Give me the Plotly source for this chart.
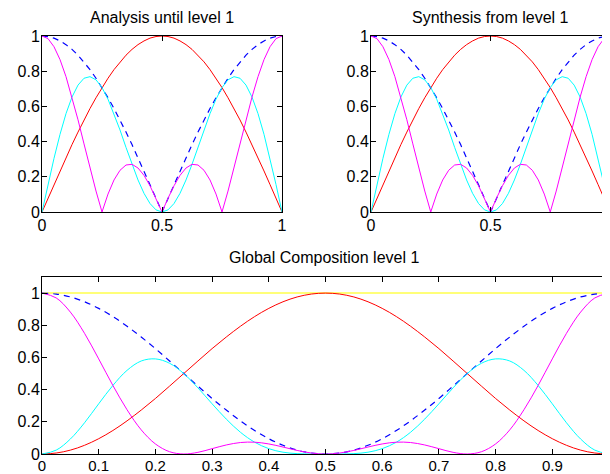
import plotly.graph_objects as go

# sample positions (normalised frequency)
x = [i * 0.025 for i in range(41)]

# ---- top panels (analysis / synthesis), half curve 0..0.5, mirrored ----
red_half = [0, .078, .156, .233, .309, .383, .454, .523, .588, .649, .707,
            .760, .809, .853, .891, .924, .951, .972, .988, .997, 1]
blue_half = [1, .997, .988, .972, .951, .924, .891, .853, .809, .760, .707,
             .649, .588, .523, .454, .383, .309, .233, .156, .078, 0]
mag_half = [1, .985, .939, .866, .769, .653, .524, .387, .250, .119, 0,
            .102, .182, .237, .267, .271, .250, .208, .149, .078, 0]
cyan_half = [0, .156, .305, .441, .559, .653, .721, .760, .769, .751, .707,
             .641, .559, .466, .367, .271, .182, .106, .048, .012, 0]

# ---- bottom panel (global composition) ----
red_g_half = [0, .006, .024, .054, .095, .146, .206, .273, .345, .422, .5,
              .578, .655, .727, .794, .854, .905, .946, .976, .994, 1]
blue_g_half = [1, .994, .976, .946, .905, .854, .794, .727, .655, .578, .5,
               .422, .345, .273, .206, .146, .095, .054, .024, .006, 0]
mag_g_half = [1, .970, .882, .750, .591, .426, .275, .150, .0625, .0142, 0,
              .0104, .0331, .0562, .0713, .0734, .0625, .0433, .0222, .0061, 0]
cyan_g_half = [0, .024, .093, .194, .312, .426, .520, .578, .591, .564, .5,
               .411, .312, .217, .135, .0734, .0331, .0112, .0023, .0001, 0]
yellow_level = 1.0

titles = ["Analysis until level 1", "Synthesis from level 1", "Global Composition level 1"]
top_xticks = [0, 0.5, 1]
top_xlabels = ["0", "0.5", "1"]
bot_xticks = [i / 10 for i in range(11)]
bot_xlabels = ["0", "0.1", "0.2", "0.3", "0.4", "0.5", "0.6", "0.7", "0.8", "0.9", "1"]
yticks = [0, 0.2, 0.4, 0.6, 0.8, 1]
ylabels = ["0", "0.2", "0.4", "0.6", "0.8", "1"]


def full(h):
    return h + h[-2::-1]


# page body has an 8px margin; the figure is sized so it ends at the window edge
OFF = 8
W, H = 610 - OFF, 474 - OFF
FONT = "Liberation Sans, Arial, sans-serif"


def px(v):
    return (v - OFF) / W


def py(v):
    return 1 - (v - OFF) / H


fig = go.Figure()


def add_top(xa, ya):
    fig.add_trace(go.Scatter(x=x, y=full(red_half), mode="lines", line=dict(color="red", width=1), xaxis=xa, yaxis=ya))
    fig.add_trace(go.Scatter(x=x, y=full(blue_half), mode="lines", line=dict(color="blue", width=1.2, dash="6px,5px"), xaxis=xa, yaxis=ya))
    fig.add_trace(go.Scatter(x=x, y=full(cyan_half), mode="lines", line=dict(color="cyan", width=1), xaxis=xa, yaxis=ya))
    fig.add_trace(go.Scatter(x=x, y=full(mag_half), mode="lines", line=dict(color="magenta", width=1), xaxis=xa, yaxis=ya))


add_top("x", "y")
add_top("x2", "y2")

fig.add_trace(go.Scatter(x=[0, 1], y=[yellow_level, yellow_level], mode="lines", line=dict(color="rgb(255,255,120)", width=2), xaxis="x3", yaxis="y3"))
fig.add_trace(go.Scatter(x=x, y=full(red_g_half), mode="lines", line=dict(color="red", width=1, shape="spline"), xaxis="x3", yaxis="y3"))
fig.add_trace(go.Scatter(x=x, y=full(blue_g_half), mode="lines", line=dict(color="blue", width=1.2, dash="6px,5px", shape="spline"), xaxis="x3", yaxis="y3"))
fig.add_trace(go.Scatter(x=x, y=full(cyan_g_half), mode="lines", line=dict(color="cyan", width=1, shape="spline"), xaxis="x3", yaxis="y3"))
fig.add_trace(go.Scatter(x=x, y=full(mag_g_half), mode="lines", line=dict(color="magenta", width=1, shape="spline"), xaxis="x3", yaxis="y3"))

axis_common = dict(showline=True, linecolor="black", linewidth=1, mirror="allticks",
                   ticks="inside", ticklen=5, tickcolor="black", tickwidth=1, automargin=False,
                   showgrid=False, zeroline=False, tickfont=dict(family=FONT, size=16, color="black"),
                   fixedrange=True)
xaxis_common = dict(axis_common, ticklabelstandoff=-1)
yaxis_common = dict(axis_common, ticklabelstandoff=-2)
xaxis_bottom = dict(axis_common, ticklabelstandoff=-2, tickfont=dict(family=FONT, size=15, color="black"))

top_y = [py(212), py(36)]
bot_y = [py(454), py(277)]
title_font = dict(family=FONT, size=16, color="black")

fig.update_layout(
    template="none",
    width=W, height=H,
    margin=dict(l=0, r=0, t=0, b=0, pad=0),
    paper_bgcolor="white", plot_bgcolor="white",
    showlegend=False,
    font=dict(family=FONT, size=16, color="black"),
    xaxis=dict(xaxis_common, domain=[px(42), px(282)], range=[0, 1], tickvals=top_xticks, ticktext=top_xlabels, anchor="y"),
    yaxis=dict(yaxis_common, domain=top_y, range=[0, 1], tickvals=yticks, ticktext=ylabels, anchor="x"),
    xaxis2=dict(xaxis_common, domain=[px(371), 1.0], range=[0, 1], tickvals=top_xticks, ticktext=top_xlabels, anchor="y2"),
    yaxis2=dict(yaxis_common, domain=top_y, range=[0, 1], tickvals=yticks, ticktext=ylabels, anchor="x2"),
    xaxis3=dict(xaxis_bottom, domain=[px(42), px(609)], range=[0, 1], tickvals=bot_xticks, ticktext=bot_xlabels, anchor="y3"),
    yaxis3=dict(yaxis_common, domain=bot_y, range=[0, 1.1], tickvals=yticks, ticktext=ylabels, anchor="x3"),
    annotations=[
        dict(text=titles[0], x=px(162), y=py(18), xref="paper", yref="paper", xanchor="center", yanchor="middle", showarrow=False, font=title_font),
        dict(text=titles[1], x=px(490), y=py(18), xref="paper", yref="paper", xanchor="center", yanchor="middle", showarrow=False, font=title_font),
        dict(text=titles[2], x=px(324), y=py(258), xref="paper", yref="paper", xanchor="center", yanchor="middle", showarrow=False, font=title_font),
    ],
)

fig.write_html("out.html")
